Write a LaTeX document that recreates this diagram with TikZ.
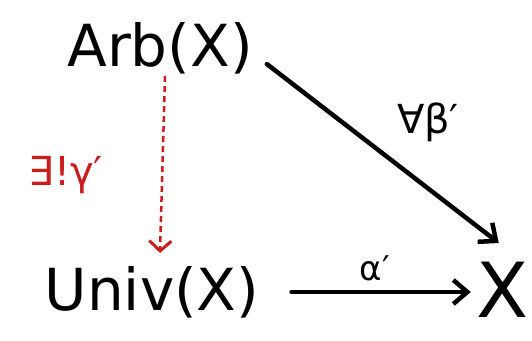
\documentclass[tikz,border=0pt]{standalone}
\usepackage{fontspec}
\setmainfont{DejaVu Sans}
\usetikzlibrary{arrows.meta}
\definecolor{hred}{RGB}{200,30,30}
\begin{document}
\begin{tikzpicture}[x=1pt,y=1pt,
  obj/.style={inner sep=2pt,font=\fontsize{58}{64}\selectfont},
  lbl/.style={inner sep=1pt,font=\fontsize{40}{44}\selectfont},
  blackarrow/.style={line width=4.5pt,line cap=round,-{Straight Barb[length=14pt,width=24pt,line width=4.5pt]}},
  redarrow/.style={hred,line width=2.5pt,dash pattern=on 6pt off 4pt,-{Straight Barb[length=10pt,width=22pt,line width=3pt]}}]
\useasboundingbox (0,0) rectangle (532,340);
\node[obj] (arb) at (160,292) {Arb(X)};
\node[obj] (univ) at (152,48) {Univ(X)};
\node[obj,inner sep=0pt,font=\fontsize{76}{80}\selectfont] (x) at (503,50) {X};
\draw[blackarrow] ([xshift=12pt,yshift=12pt]arb.south east) -- ([xshift=22pt,yshift=47pt]x.west);
\draw[blackarrow] ([xshift=30pt]univ.east) -- ([xshift=-6pt,yshift=-2pt]x.west);
\draw[redarrow] ([xshift=5pt]arb.south) -- ([xshift=8pt,yshift=11pt]univ.north);
\node[lbl] (fb) at (428,218) {∀β′};
\node[lbl,text=hred] (eg) at (66,165) {∃!γ′};
\node[lbl,font=\fontsize{34}{38}\selectfont] (al) at (375,72) {α′};
\end{tikzpicture}
\end{document}
